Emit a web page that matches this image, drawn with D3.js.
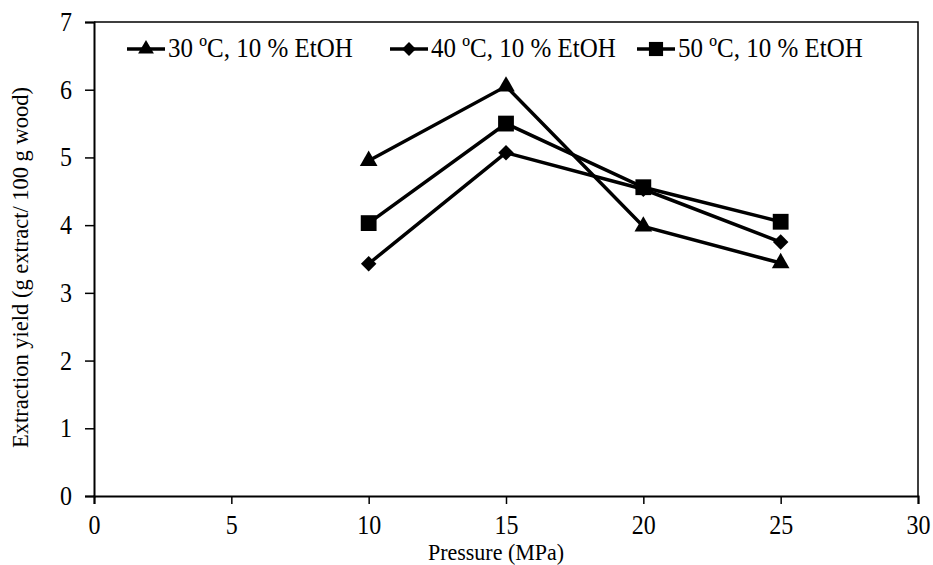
<!DOCTYPE html>
<html>
<head>
<meta charset="utf-8">
<script src="https://cdn.jsdelivr.net/npm/d3@7"></script>
<style>
  body { margin: 0; background: #fff; }
  svg { display: block; }
  text { font-family: "Liberation Serif", "Times New Roman", serif; fill: #000; }
</style>
</head>
<body>
<svg id="chart" width="933" height="565"></svg>
<script>
const pressures = [10, 15, 20, 25];
const yield30 = [4.95, 6.05, 3.98, 3.44];
const yield40 = [3.43, 5.07, 4.53, 3.75];
const yield50 = [4.03, 5.50, 4.56, 4.05];
const seriesNames = ["30 ºC, 10 % EtOH", "40 ºC, 10 % EtOH", "50 ºC, 10 % EtOH"];
const xTicks = [0, 5, 10, 15, 20, 25, 30];
const yTicks = [0, 1, 2, 3, 4, 5, 6, 7];

const svg = d3.select("#chart");
const mLeft = 94, mRight = 918, mTop = 22, mBottom = 496;
const vs = 1.12; // vertical glyph stretch seen in the reference

const x = d3.scaleLinear().domain([0, 30]).range([mLeft, mRight]);
const y = d3.scaleLinear().domain([0, 7]).range([mBottom, mTop]);

// frame (top and right)
svg.append("path")
  .attr("d", `M${mLeft},${mTop}H${mRight}V${mBottom}`)
  .attr("fill", "none").attr("stroke", "#000").attr("stroke-width", 1.5);

// axes
const xAxis = svg.append("g").attr("transform", `translate(0,${mBottom})`)
  .call(d3.axisBottom(x).tickValues(xTicks).tickSize(8).tickFormat(d3.format("d")));
const yAxis = svg.append("g").attr("transform", `translate(${mLeft},0)`)
  .call(d3.axisLeft(y).tickValues(yTicks).tickSize(9).tickFormat(d3.format("d")));
[xAxis, yAxis].forEach(g => {
  g.select(".domain").attr("stroke", "#000").attr("stroke-width", 2);
  g.selectAll(".tick line").attr("stroke", "#000").attr("stroke-width", 1.5);
  g.selectAll(".tick text").style("font-size", "24px").style("font-family", "'Liberation Serif', serif")
    .attr("x", null).attr("y", null).attr("dy", null);
});
xAxis.selectAll(".tick text").attr("transform", `translate(0,37.5) scale(1,${vs})`);
yAxis.selectAll(".tick text").attr("transform", `translate(-22,8.5) scale(1,${vs})`);

// axis titles
svg.append("text").attr("transform", `translate(496,560) scale(1,1.05)`)
  .attr("text-anchor", "middle").style("font-size", "22px").text("Pressure (MPa)");
svg.append("text").attr("transform", `translate(28,${(85 + 450) / 2}) rotate(-90) scale(1,1.05)`)
  .attr("text-anchor", "middle").style("font-size", "22.5px")
  .text("Extraction yield (g extract/ 100 g wood)");

const diamond = { draw(ctx, size) { const r = Math.sqrt(size / 2); ctx.moveTo(0, -r); ctx.lineTo(r, 0); ctx.lineTo(0, r); ctx.lineTo(-r, 0); ctx.closePath(); } };
const symbols = [d3.symbolTriangle, diamond, d3.symbolSquare];
const symSizes = [135, 120, 250];
const datasets = [yield30, yield40, yield50];

const line = d3.line().x(d => x(d[0])).y(d => y(d[1]));

datasets.forEach((vals, i) => {
  const pts = pressures.map((p, j) => [p, vals[j]]);
  svg.append("path").datum(pts).attr("d", line)
    .attr("fill", "none").attr("stroke", "#000").attr("stroke-width", 3.5);
  svg.selectAll(null).data(pts).enter().append("path")
    .attr("transform", d => `translate(${x(d[0])},${y(d[1])})`)
    .attr("d", d3.symbol().type(symbols[i]).size(symSizes[i]))
    .attr("fill", "#000");
});

// legend
const legendX = [127, 390, 637];
const legendY = 49;
seriesNames.forEach((name, i) => {
  const g = svg.append("g").attr("transform", `translate(${legendX[i]},${legendY})`);
  g.append("line").attr("x1", 0).attr("x2", 38).attr("y1", 0).attr("y2", 0)
    .attr("stroke", "#000").attr("stroke-width", 3.5);
  g.append("path").attr("transform", "translate(19,0)")
    .attr("d", d3.symbol().type(symbols[i]).size(symSizes[i] * 0.8)).attr("fill", "#000");
  g.append("text").attr("transform", `translate(41,8) scale(1,${vs})`).style("font-size", "25px").text(name);
});
</script>
</body>
</html>
